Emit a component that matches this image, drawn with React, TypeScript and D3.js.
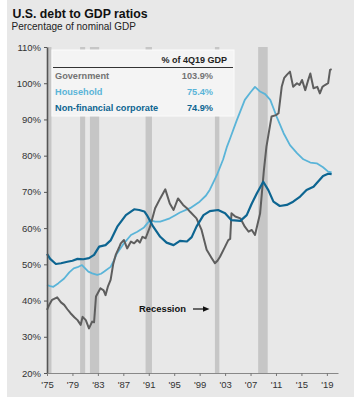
import React, { useEffect, useRef } from "react"
import * as d3 from "d3"

// values (year, % of nominal GDP)
const govYears = [
  1975.0, 1975.4, 1975.8, 1976.6, 1977.2, 1977.7, 1978.2, 1978.7, 1979.3, 1979.8,
  1980.3, 1980.6, 1981.1, 1981.6, 1982.1, 1982.4, 1982.7, 1983.4, 1983.9, 1984.2,
  1984.6, 1985.0, 1985.4, 1985.8, 1986.3, 1986.6, 1987.1, 1987.6, 1988.2, 1988.7,
  1989.2, 1989.6, 1990.0, 1990.5, 1991.2, 1992.0, 1992.8, 1993.6, 1994.0, 1994.3,
  1994.9, 1995.6, 1996.4, 1997.0, 1997.5, 1998.5, 1999.3, 2000.1, 2000.9, 2001.4,
  2001.8, 2002.2, 2003.0, 2003.5, 2003.8, 2004.0, 2004.6, 2005.4, 2006.1, 2006.7,
  2007.2, 2007.7, 2008.2, 2008.5, 2008.8, 2009.1, 2009.5, 2010.3, 2011.0, 2011.4,
  2011.9, 2012.3, 2012.7, 2013.2, 2013.7, 2014.3, 2014.7, 2015.1, 2015.6, 2016.0,
  2016.4, 2016.9, 2017.5, 2017.9, 2018.3, 2018.7, 2019.2, 2019.5, 2019.75
]
const govValues = [
  37.4, 39.0, 40.2, 40.9, 39.5, 38.8, 37.6, 36.5, 35.4, 34.6,
  33.3, 35.5, 34.6, 32.3, 34.2, 34.0, 41.1, 43.4, 42.8, 41.5,
  44.0, 45.7, 50.0, 52.6, 54.5, 55.8, 56.7, 54.4, 56.3, 55.8,
  56.7, 56.0, 57.6, 57.2, 60.4, 65.5, 68.2, 70.7, 68.5, 66.8,
  65.0, 68.2, 66.4, 65.5, 64.5, 62.7, 59.5, 54.0, 51.7, 50.3,
  51.0, 52.1, 54.9, 56.7, 57.0, 64.1, 63.2, 62.7, 60.4, 59.0,
  59.5, 58.1, 61.8, 64.0, 70.0, 76.0, 82.5, 90.8, 91.2, 91.7,
  99.0, 101.5, 102.3, 103.2, 99.0, 100.0, 99.5, 100.9, 98.1, 100.5,
  102.7, 98.6, 99.0, 97.2, 99.0, 99.5, 100.0, 103.7, 103.9
]

const houseYears = [
  1975.0, 1975.5, 1976.0, 1976.8, 1977.7, 1978.5, 1979.2, 1979.8, 1980.5, 1981.0,
  1981.5, 1982.1, 1982.9, 1983.5, 1984.0, 1985.0, 1985.5, 1986.0, 1987.1, 1988.2,
  1989.2, 1990.25, 1991.2, 1992.0, 1992.8, 1993.5, 1994.3, 1995.1, 1995.9, 1997.5,
  1999.0, 2000.0, 2000.6, 2001.7, 2002.7, 2003.3, 2003.8, 2004.8, 2006.1, 2007.0,
  2007.7, 2008.0, 2008.5, 2009.3, 2010.1, 2011.1, 2012.2, 2013.2, 2014.3, 2015.3,
  2016.4, 2017.4, 2018.4, 2019.2, 2019.75
]
const houseValues = [
  44.3, 44.0, 43.8, 44.8, 46.1, 47.8, 48.9, 49.2, 49.8, 48.9,
  48.0, 47.5, 47.1, 47.4, 48.0, 49.3, 51.0, 53.0, 55.8, 58.1,
  59.0, 60.2, 62.2, 61.8, 61.8, 62.2, 62.7, 63.5, 64.3, 65.5,
  67.3, 69.0, 70.6, 74.6, 79.0, 82.5, 84.8, 89.6, 95.4, 97.5,
  99.0, 98.5, 97.7, 97.0, 95.4, 90.8, 86.2, 82.9, 80.7, 79.0,
  78.1, 77.9, 76.8, 75.6, 75.4
]

const corpYears = [
  1975.0, 1975.5, 1976.4, 1977.2, 1978.2, 1979.0, 1979.8, 1980.7, 1981.6, 1982.4,
  1983.2, 1984.2, 1985.0, 1986.05, 1987.4, 1988.7, 1989.5, 1990.3, 1990.7, 1991.7,
  1992.8, 1993.8, 1994.9, 1995.9, 1997.0, 1997.75, 1998.5, 1999.6, 2000.6, 2001.9,
  2003.0, 2004.0, 2005.4, 2006.4, 2007.2, 2008.0, 2009.0, 2009.8, 2010.6, 2011.6,
  2012.7, 2013.7, 2014.8, 2015.8, 2016.9, 2018.4, 2019.2, 2019.75
]
const corpValues = [
  52.9, 51.5, 50.1, 50.3, 50.7, 51.0, 51.5, 51.4, 51.7, 52.6,
  54.9, 55.3, 56.6, 60.4, 63.6, 65.2, 65.0, 64.6, 63.6, 60.4,
  57.6, 56.0, 55.3, 56.5, 56.3, 57.5, 60.4, 63.6, 64.7, 65.0,
  64.1, 62.2, 62.0, 63.6, 66.8, 69.6, 72.8, 70.5, 67.3, 66.1,
  66.4, 67.3, 68.7, 70.5, 71.4, 74.4, 75.0, 74.9
]

const recessionStarts = [1974.0, 1980.2, 1981.75, 1990.5, 2001.4, 2008.2]
const recessionEnds = [1975.7, 1981.0, 1983.2, 1991.5, 2002.1, 2009.7]

const yTicks = [20, 30, 40, 50, 60, 70, 80, 90, 100, 110]
const xTicks = [1975, 1979, 1983, 1987, 1991, 1995, 1999, 2003, 2007, 2011, 2015, 2019]

const legendNames = ["Government", "Household", "Non-financial corporate"]
const legendValues = ["103.9%", "75.4%", "74.9%"]
const colors = ["#5e5e5e", "#5ab4d8", "#0d6591"]
const legendColors = ["#737373", "#5ab4d8", "#0d6591"]

const width = 354
const height = 400
const plot = { left: 47, right: 338, top: 47, bottom: 373 }
const font = "'Liberation Sans', Arial, sans-serif"

export default function App() {
  const ref = useRef<SVGSVGElement>(null)

  useEffect(() => {
    const svg = d3.select(ref.current)
    svg.selectAll("*").remove()

    const x = d3.scaleLinear().domain([1975, 2020.75]).range([plot.left, plot.right])
    const y = d3.scaleLinear().domain([20, 110]).range([plot.bottom, plot.top])

    svg.append("rect")
      .attr("x", 7).attr("y", 0)
      .attr("width", width - 7).attr("height", 397)
      .attr("fill", "#e8e8e8")

    // recession bars
    svg.append("g")
      .selectAll("rect")
      .data(recessionStarts)
      .enter()
      .append("rect")
      .attr("x", d => x(Math.max(d, 1975)))
      .attr("width", (d, i) => x(recessionEnds[i]) - x(Math.max(d, 1975)))
      .attr("y", y(110))
      .attr("height", y(20) - y(110))
      .attr("fill", "#c6c6c6")

    // legend box
    const lg = svg.append("g").attr("font-family", font)
    lg.append("rect")
      .attr("x", 52).attr("y", 50).attr("width", 182).attr("height", 66)
      .attr("fill", "#f4f4f4").attr("stroke", "#fbfbfb")
    lg.append("text")
      .attr("x", 227).attr("y", 63)
      .attr("text-anchor", "end")
      .attr("font-size", 9).attr("font-weight", "bold").attr("fill", "#222")
      .text("% of 4Q19 GDP")
    lg.append("line")
      .attr("x1", 53).attr("x2", 233).attr("y1", 67.5).attr("y2", 67.5)
      .attr("stroke", "#333").attr("stroke-width", 1)
    legendNames.forEach((name, i) => {
      lg.append("text")
        .attr("x", 55).attr("y", 78.5 + i * 16.2)
        .attr("font-size", 9.2).attr("font-weight", "bold").attr("fill", legendColors[i])
        .text(name)
      lg.append("text")
        .attr("x", 213).attr("y", 78.5 + i * 16.2)
        .attr("text-anchor", "end")
        .attr("font-size", 9.2).attr("font-weight", "bold").attr("fill", legendColors[i])
        .text(legendValues[i])
    })

    // series
    const line = d3.line<[number, number]>()
      .x(d => x(d[0]))
      .y(d => y(d[1]))
      .curve(d3.curveLinear)

    const series = [
      { xs: houseYears, vs: houseValues, c: colors[1], w: 1.8 },
      { xs: govYears, vs: govValues, c: colors[0], w: 2 },
      { xs: corpYears, vs: corpValues, c: colors[2], w: 2.2 }
    ]
    series.forEach(s => {
      svg.append("path")
        .attr("d", line(s.xs.map((yr, i) => [yr, s.vs[i]] as [number, number])))
        .attr("fill", "none")
        .attr("stroke", s.c)
        .attr("stroke-width", s.w)
        .attr("stroke-linejoin", "round")
    })

    // axes
    const yAxis = d3.axisLeft(y).tickValues(yTicks).tickFormat(d => `${d}%`).tickSize(3).tickSizeOuter(0)
    const gy = svg.append("g")
      .attr("transform", `translate(${plot.left},0)`)
      .call(yAxis)
    gy.select(".domain").attr("stroke", "#555").attr("stroke-width", 1.6)
    gy.selectAll(".tick line").attr("stroke", "#555")
    gy.selectAll(".tick text")
      .attr("font-family", font).attr("font-size", 9.5).attr("fill", "#333").attr("x", -6)

    const xAxis = d3.axisBottom(x)
      .tickValues(xTicks)
      .tickFormat(d => `'${String(d).slice(2)}`)
      .tickSize(3).tickSizeOuter(0)
    const gx = svg.append("g")
      .attr("transform", `translate(0,${plot.bottom})`)
      .call(xAxis)
    gx.select(".domain").attr("stroke", "#888").attr("stroke-width", 1)
    gx.selectAll(".tick line").attr("stroke", "#777")
    gx.selectAll(".tick text")
      .attr("font-family", font).attr("font-size", 9.5).attr("fill", "#333").attr("y", 8)

    // titles
    svg.append("text")
      .attr("x", 12.5).attr("y", 18)
      .attr("font-family", font).attr("font-size", 12.3).attr("font-weight", "bold").attr("fill", "#111")
      .text("U.S. debt to GDP ratios")
    svg.append("text")
      .attr("x", 11.5).attr("y", 29.5)
      .attr("font-family", font).attr("font-size", 10).attr("fill", "#222")
      .text("Percentage of nominal GDP")

    // recession note
    svg.append("text")
      .attr("x", 139).attr("y", 312)
      .attr("font-family", font).attr("font-size", 9.4).attr("font-weight", "bold").attr("fill", "#111")
      .text("Recession")
    svg.append("line")
      .attr("x1", 193).attr("x2", 204).attr("y1", 309).attr("y2", 309)
      .attr("stroke", "#111").attr("stroke-width", 1.2)
    svg.append("path")
      .attr("d", "M203,306.3L209.5,309L203,311.7Z")
      .attr("fill", "#111")
  }, [])

  return (
    <svg
      ref={ref}
      width={width}
      height={height}
      style={{ position: "absolute", left: 0, top: 0, background: "white" }}
    />
  )
}
